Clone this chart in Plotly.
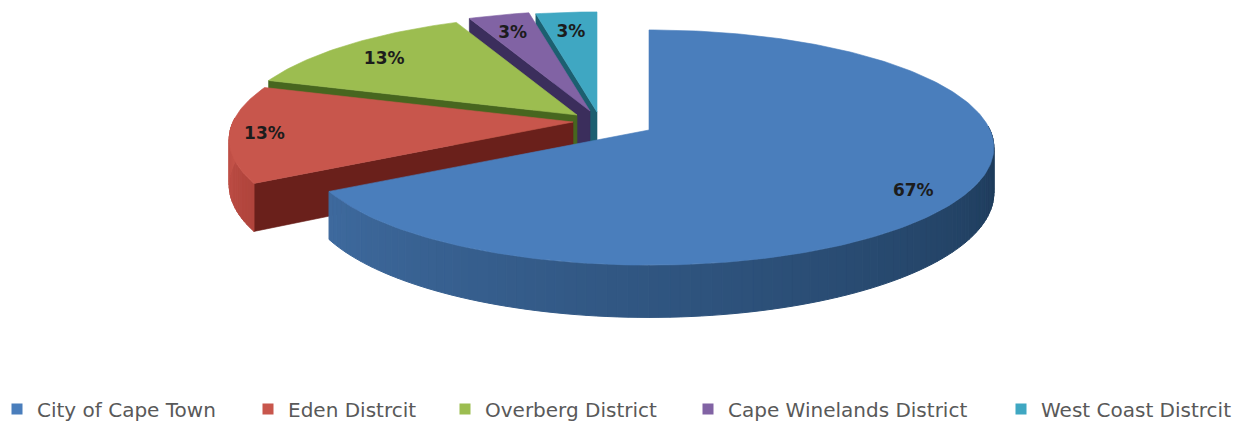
import math
import plotly.graph_objects as go

# ---- data ----
categories = ["City of Cape Town", "Eden Distrcit", "Overberg District",
              "Cape Winelands District", "West Coast Distrcit"]
shares = [66.7, 13.3, 13.3, 3.3, 3.3]
labels = ["67%", "13%", "13%", "3%", "3%"]

# ---- style / geometry (pixel-like axis units) ----
W, H = 1251, 423
top_colors = ["#4A7EBC", "#C8564C", "#9CBD50", "#8163A4", "#3FA7C2"]
radial_wall = ["#2F5482", "#6A201B", "#47661F", "#3B2E5C", "#1C5F70"]
outer_from = ["#3E6A9E", "#C4534A", "#6F8F38", "#5F4A80", "#2F8098"]
outer_to = ["#1B3755", "#B0443C", "#6F8F38", "#5F4A80", "#2F8098"]
apex = [(649, 130), (573, 122), (577, 115), (590, 111), (597, 112)]
radius_x = [341, 340, 340, 340, 340]
radius_y = 115
persp = 0.149
depth = 44.5
label_r = [0.84, 0.90, 0.83, 0.83, 0.83]
label_drop = [9, 2, 4, 5, 6]
legend_x = [-3, 248, 445, 688, 1001]


def project(i, deg, r=1.0, drop=0.0):
    th = math.radians(deg)
    u, v = r * math.sin(th), r * math.cos(th)
    k = 1 / (1 + persp * v)
    return (apex[i][0] + radius_x[i] * u * k,
            apex[i][1] - radius_y * v * k + drop * k)


def mix(c1, c2, t):
    a = [int(c1[j:j + 2], 16) for j in (1, 3, 5)]
    b = [int(c2[j:j + 2], 16) for j in (1, 3, 5)]
    return "#" + "".join(f"{round(x + (y - x) * t):02x}" for x, y in zip(a, b))


def poly(fig, pts, color, width=0.6):
    fig.add_trace(go.Scatter(
        x=[p[0] for p in pts] + [pts[0][0]], y=[p[1] for p in pts] + [pts[0][1]],
        mode="lines", fill="toself", fillcolor=color,
        line=dict(color=color, width=width), hoverinfo="skip", showlegend=False))


total = sum(shares)
bounds = [0.0]
for s in shares:
    bounds.append(bounds[-1] + s / total * 360)

fig = go.Figure()
# back to front
for i in reversed(range(len(shares))):
    a0, a1 = bounds[i], bounds[i + 1]
    if i > 0:
        outer = project(i, a0)
        centre = apex[i]
        poly(fig, [outer, centre,
                   (centre[0], centre[1] + depth),
                   project(i, a0, drop=depth)], radial_wall[i])
    lo, hi = max(a0, 88), min(a1, 272)
    if lo < hi:
        n = max(int((hi - lo) / 1.5), 1)
        for s in range(n):
            d0 = lo + (hi - lo) * s / n
            d1 = lo + (hi - lo) * (s + 1) / n
            t = (d0 - lo) / (hi - lo)
            col = mix(outer_to[i], outer_from[i], t)
            poly(fig, [project(i, d0), project(i, d1),
                       project(i, d1, drop=depth), project(i, d0, drop=depth)], col, 1.0)
    steps = max(int(a1 - a0), 6)
    arc = [project(i, a0 + (a1 - a0) * s / steps) for s in range(steps + 1)]
    poly(fig, [apex[i]] + arc, top_colors[i])

# percentage labels
for i, txt in enumerate(labels):
    px, py = project(i, (bounds[i] + bounds[i + 1]) / 2, r=label_r[i], drop=label_drop[i])
    fig.add_trace(go.Scatter(
        x=[px], y=[py], mode="text", text=[txt], hoverinfo="skip", showlegend=False,
        textfont=dict(family="DejaVu Sans", size=17, color="#1c1c1c", weight="bold")))

# legend: one real legend per category so each can sit at its own position
layout_legends = {}
for i, name in enumerate(categories):
    key = "legend" if i == 0 else f"legend{i + 1}"
    fig.add_trace(go.Scatter(
        x=[None], y=[None], mode="markers", name=name, legend=key,
        marker=dict(symbol="square", size=11, color=top_colors[i])))
    layout_legends[key] = dict(
        x=legend_x[i] / W, xanchor="left", y=1 - 409 / H, yanchor="middle",
        orientation="h", bgcolor="rgba(0,0,0,0)", itemwidth=30,
        itemclick=False, itemdoubleclick=False, tracegroupgap=0,
        font=dict(family="DejaVu Sans", size=20, color="#595959"))

fig.update_layout(
    width=W, height=H, margin=dict(l=0, r=0, t=0, b=0, autoexpand=False),
    paper_bgcolor="white", plot_bgcolor="white", showlegend=True,
    xaxis=dict(range=[0, W], visible=False, fixedrange=True),
    yaxis=dict(range=[H, 0], visible=False, fixedrange=True),
    **layout_legends)

fig.write_html("out.html", config={"displayModeBar": False},
               post_script="document.body.style.margin='0';")
